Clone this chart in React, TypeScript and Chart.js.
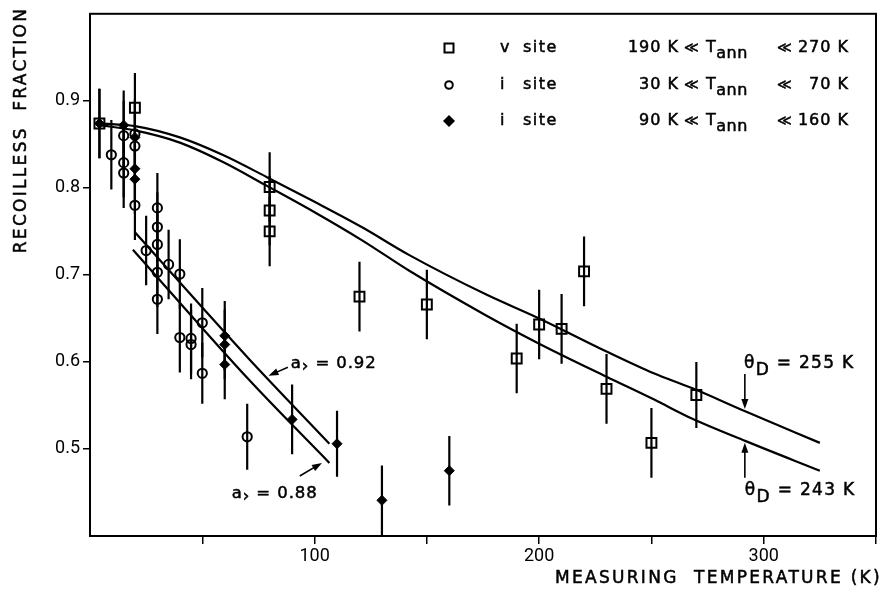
import React, { useEffect, useRef } from 'react';
import { Chart, registerables } from 'chart.js';

Chart.register(...registerables);

// ---- axis ticks ----
const xTickMarks = [50, 100, 150, 200, 250, 300, 350];
const xTickLabels = [100, 200, 300];
const yTickLabels = [0.5, 0.6, 0.7, 0.8, 0.9];

// ---- v site (squares) ----
const vSiteT = [4.2, 20, 80, 80, 80, 120, 150, 190, 200, 210, 220, 230, 250, 270];
const vSiteF = [0.874, 0.892, 0.801, 0.774, 0.75, 0.675, 0.666, 0.604, 0.643, 0.638, 0.704, 0.569, 0.507, 0.562];
const vSiteErr = [0.04, 0.04, 0.04, 0.04, 0.04, 0.04, 0.04, 0.04, 0.04, 0.04, 0.04, 0.04, 0.04, 0.038];

// ---- i site, 30 K < Tann < 70 K (circles) ----
const iLowT = [9.5, 15, 15, 15, 20, 20, 20, 25, 30, 30, 30, 30, 30, 35, 40, 40, 45, 45, 50, 50, 70];
const iLowF = [0.838, 0.86, 0.829, 0.817, 0.862, 0.848, 0.78, 0.728, 0.777, 0.755, 0.735, 0.703, 0.672, 0.712, 0.701, 0.628, 0.627, 0.62, 0.645, 0.587, 0.514];
const iLowErr = [0.04, 0.04, 0.04, 0.04, 0.04, 0.04, 0.04, 0.04, 0.04, 0.04, 0.04, 0.04, 0.04, 0.04, 0.04, 0.04, 0.04, 0.04, 0.04, 0.035, 0.038];

// ---- i site, 90 K < Tann < 160 K (diamonds) ----
const iHighT = [4.2, 15, 20, 20, 20, 60, 60, 60, 90, 110, 130, 160];
const iHighF = [0.874, 0.872, 0.858, 0.822, 0.81, 0.63, 0.62, 0.597, 0.534, 0.506, 0.441, 0.475];
const iHighErr = [0.04, 0.04, 0.04, 0.04, 0.04, 0.04, 0.04, 0.04, 0.04, 0.038, 0.04, 0.04];

// ---- Debye curves ----
const debyeT = [4.2, 20, 40, 59, 79, 100, 121, 142, 176, 200, 230, 251, 268, 292, 325];
const theta255F = [0.874, 0.871, 0.858, 0.838, 0.812, 0.784, 0.755, 0.723, 0.678, 0.65, 0.612, 0.587, 0.57, 0.543, 0.507];
const theta243F = [0.872, 0.866, 0.852, 0.83, 0.802, 0.772, 0.74, 0.705, 0.654, 0.621, 0.583, 0.557, 0.535, 0.509, 0.475];

// ---- i-site fit lines ----
const a092T = [20, 70.6, 106.6];
const a092F = [0.749, 0.604, 0.506];
const a088T = [19.1, 70.6, 106.6];
const a088F = [0.729, 0.58, 0.484];

// ---- legend ----
const legendSymbols = ['square', 'circle', 'diamond'];
const legendSites = ['v', 'i', 'i'];
const legendLow = ['190 K', '30 K', '90 K'];
const legendHigh = ['270 K', '70 K', '160 K'];

const FONT = '"DejaVu Sans", sans-serif';

const zip = (xs: number[], ys: number[]) => xs.map((x, i) => ({ x, y: ys[i] }));

type Seg = { t: string; dy?: number };

function paint(ctx: CanvasRenderingContext2D, t: string, x: number, y: number) {
  ctx.fillText(t, x, y);
  ctx.strokeText(t, x, y);
}

function setup(ctx: CanvasRenderingContext2D, size: number, spacing: number) {
  ctx.font = `${size}px ${FONT}`;
  (ctx as any).letterSpacing = spacing + 'px';
  ctx.textBaseline = 'middle';
  ctx.fillStyle = '#000';
  ctx.strokeStyle = '#000';
  ctx.lineWidth = 0.5;
}

function drawSegs(ctx: CanvasRenderingContext2D, segs: Seg[], x: number, y: number, size: number, spacing = 1) {
  ctx.save();
  setup(ctx, size, spacing);
  ctx.textAlign = 'left';
  let cx = x;
  for (const s of segs) {
    paint(ctx, s.t, cx, y + (s.dy || 0));
    cx += ctx.measureText(s.t).width;
  }
  ctx.restore();
}

function drawTextAligned(ctx: CanvasRenderingContext2D, t: string, x: number, y: number, size: number, align: CanvasTextAlign, spacing = 1) {
  ctx.save();
  setup(ctx, size, spacing);
  ctx.textAlign = align;
  paint(ctx, t, x, y);
  ctx.restore();
}

function arrow(ctx: CanvasRenderingContext2D, x1: number, y1: number, x2: number, y2: number) {
  const ang = Math.atan2(y2 - y1, x2 - x1);
  const hl = 10, hw = 3.5;
  ctx.save();
  ctx.strokeStyle = '#000';
  ctx.fillStyle = '#000';
  ctx.lineWidth = 1.6;
  ctx.beginPath();
  ctx.moveTo(x1, y1);
  ctx.lineTo(x2 - Math.cos(ang) * hl * 0.6, y2 - Math.sin(ang) * hl * 0.6);
  ctx.stroke();
  ctx.beginPath();
  ctx.moveTo(x2, y2);
  ctx.lineTo(x2 - Math.cos(ang) * hl - Math.sin(ang) * hw, y2 - Math.sin(ang) * hl + Math.cos(ang) * hw);
  ctx.lineTo(x2 - Math.cos(ang) * hl + Math.sin(ang) * hw, y2 - Math.sin(ang) * hl - Math.cos(ang) * hw);
  ctx.closePath();
  ctx.fill();
  ctx.restore();
}

function drawSymbol(ctx: CanvasRenderingContext2D, kind: string, x: number, y: number) {
  ctx.save();
  ctx.strokeStyle = '#000';
  ctx.fillStyle = '#000';
  ctx.lineWidth = 2;
  if (kind === 'square') {
    ctx.strokeRect(x - 4.5, y - 4.5, 9, 9);
  } else if (kind === 'circle') {
    ctx.beginPath();
    ctx.arc(x, y, 3.8, 0, Math.PI * 2);
    ctx.stroke();
  } else {
    ctx.beginPath();
    ctx.moveTo(x, y - 6);
    ctx.lineTo(x + 6, y);
    ctx.lineTo(x, y + 6);
    ctx.lineTo(x - 6, y);
    ctx.closePath();
    ctx.fill();
  }
  ctx.restore();
}

const errorBarPlugin = {
  id: 'errorBars',
  beforeDatasetsDraw(chart: any) {
    const { ctx, chartArea, scales } = chart;
    ctx.save();
    ctx.beginPath();
    ctx.rect(chartArea.left, chartArea.top, chartArea.right - chartArea.left, chartArea.bottom - chartArea.top);
    ctx.clip();
    ctx.strokeStyle = '#000';
    ctx.lineWidth = 2.2;
    chart.data.datasets.forEach((ds: any) => {
      if (!ds.errs) return;
      ds.data.forEach((p: any, i: number) => {
        const e = ds.errs[i];
        const px = scales.x.getPixelForValue(p.x);
        const y1 = scales.y.getPixelForValue(p.y - e);
        const y2 = scales.y.getPixelForValue(p.y + e);
        ctx.beginPath();
        ctx.moveTo(px, y1);
        ctx.lineTo(px, y2);
        ctx.stroke();
      });
    });
    ctx.restore();
  },
};

const decorPlugin = {
  id: 'decor',
  afterDraw(chart: any) {
    const { ctx, chartArea, scales } = chart;
    const X = (v: number) => scales.x.getPixelForValue(v);
    const Y = (v: number) => scales.y.getPixelForValue(v);

    // frame
    ctx.save();
    ctx.strokeStyle = '#000';
    ctx.lineWidth = 2;
    ctx.strokeRect(chartArea.left, chartArea.top, chartArea.right - chartArea.left, chartArea.bottom - chartArea.top);
    ctx.restore();

    // axis titles
    ctx.save();
    ctx.translate(22, 130);
    ctx.rotate(-Math.PI / 2);
    drawTextAligned(ctx, 'RECOILLESS  FRACTION', 0, 0, 17, 'center', 2.3);
    ctx.restore();
    drawTextAligned(ctx, 'MEASURING  TEMPERATURE (K)', 882, 579, 17, 'right', 2.3);

    // legend
    const rowsY = [48, 85, 121];
    legendSymbols.forEach((s, i) => {
      const y = rowsY[i];
      drawSymbol(ctx, s, 449, y);
      drawTextAligned(ctx, legendSites[i], 500, y, 16, 'left', 1);
      drawTextAligned(ctx, 'site', 523, y, 16, 'left', 1.5);
      drawTextAligned(ctx, legendLow[i], 679, y, 16, 'right', 1);
      drawTextAligned(ctx, '≪', 684, y, 14, 'left', 0);
      drawSegs(ctx, [{ t: 'T' }, { t: 'ann', dy: 6 }], 706, y, 16, 0.5);
      drawTextAligned(ctx, '≪', 777, y, 14, 'left', 0);
      drawTextAligned(ctx, legendHigh[i], 849, y, 16, 'right', 1);
    });

    // Debye temperature labels
    drawSegs(ctx, [{ t: 'θ' }, { t: 'D', dy: 7 }, { t: ' = 255 K' }], X(291.2), Y(0.598), 17, 1.3);
    arrow(ctx, X(291.6), Y(0.586), X(291.6), Y(0.546));
    drawSegs(ctx, [{ t: 'θ' }, { t: 'D', dy: 7 }, { t: ' = 243 K' }], X(291.6), Y(0.452), 17, 1.3);
    arrow(ctx, X(291.6), Y(0.467), X(291.6), Y(0.507));

    // fit line labels
    drawSegs(ctx, [{ t: 'a' }, { t: '›', dy: 3 }, { t: ' = 0.92' }], X(89.4), Y(0.598), 16.5, 0.9);
    arrow(ctx, X(88.1), Y(0.594), X(79.5), Y(0.584));
    drawSegs(ctx, [{ t: 'a' }, { t: '›', dy: 3 }, { t: ' = 0.88' }], X(63.1), Y(0.449), 16.5, 0.9);
    arrow(ctx, X(93.4), Y(0.469), X(103.3), Y(0.484));
  },
};

export default function App() {
  const ref = useRef<HTMLCanvasElement>(null);

  useEffect(() => {
    const canvas = ref.current;
    if (!canvas) return;
    const lineDs = (data: any[]) => ({
      type: 'line' as const,
      data,
      borderColor: '#000',
      borderWidth: 2.2,
      pointRadius: 0,
      fill: false,
      cubicInterpolationMode: 'monotone' as const,
      showLine: true,
    });
    const chart = new Chart(canvas, {
      type: 'scatter',
      data: {
        datasets: [
          {
            label: 'v site',
            data: zip(vSiteT, vSiteF),
            errs: vSiteErr,
            pointStyle: 'rect',
            pointRadius: 7,
            borderColor: '#000',
            backgroundColor: 'rgba(0,0,0,0)',
            borderWidth: 2,
          } as any,
          {
            label: 'i site 30-70',
            data: zip(iLowT, iLowF),
            errs: iLowErr,
            pointStyle: 'circle',
            pointRadius: 4.6,
            borderColor: '#000',
            backgroundColor: 'rgba(0,0,0,0)',
            borderWidth: 2,
          } as any,
          {
            label: 'i site 90-160',
            data: zip(iHighT, iHighF),
            errs: iHighErr,
            pointStyle: 'rectRot',
            pointRadius: 5,
            borderColor: '#000',
            backgroundColor: '#000',
            borderWidth: 1,
          } as any,
          lineDs(zip(debyeT, theta255F)),
          lineDs(zip(debyeT, theta243F)),
          lineDs(zip(a092T, a092F)),
          lineDs(zip(a088T, a088F)),
        ],
      },
      options: {
        animation: false,
        responsive: false,
        events: [],
        layout: { padding: { top: 10, right: 2, left: 0, bottom: 0 } },
        plugins: {
          legend: { display: false },
          tooltip: { enabled: false },
          title: { display: false },
        },
        scales: {
          x: {
            type: 'linear',
            min: 0,
            max: 350,
            afterBuildTicks: (s: any) => {
              s.ticks = xTickMarks.map((v) => ({ value: v }));
            },
            afterFit: (s: any) => {
              s.height = 66;
            },
            ticks: {
              autoSkip: false,
              maxRotation: 0,
              padding: 2,
              color: '#000',
              font: { family: 'Roboto', size: 18 },
              callback: (v: any) => (xTickLabels.includes(Number(v)) ? String(v) : ''),
            },
            grid: { drawOnChartArea: false, drawTicks: true, tickLength: 8, color: '#000', lineWidth: 1.5 },
            border: { display: false },
          },
          y: {
            type: 'linear',
            min: 0.4,
            max: 1.0,
            afterBuildTicks: (s: any) => {
              s.ticks = yTickLabels.map((v) => ({ value: v }));
            },
            afterFit: (s: any) => {
              s.width = 90;
            },
            ticks: {
              autoSkip: false,
              padding: 3,
              color: '#000',
              font: { family: 'Roboto', size: 18 },
              callback: (v: any) => Number(v).toFixed(1),
            },
            grid: { drawOnChartArea: false, drawTicks: true, tickLength: 7, color: '#000', lineWidth: 1.5 },
            border: { display: false },
          },
        },
      } as any,
      plugins: [errorBarPlugin, decorPlugin],
    });
    return () => chart.destroy();
  }, []);

  return (
    <div style={{ position: 'absolute', left: 0, top: 0, width: 885, height: 602, background: '#fff' }}>
      <canvas ref={ref} width={885} height={602} style={{ display: 'block' }} />
    </div>
  );
}
